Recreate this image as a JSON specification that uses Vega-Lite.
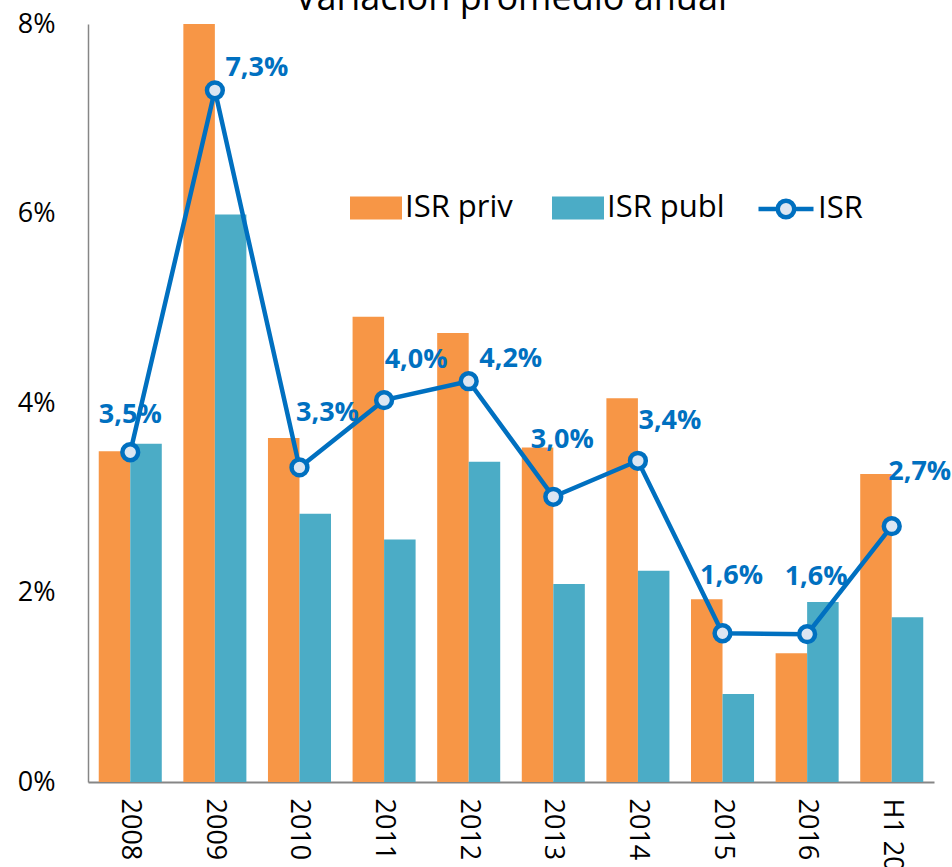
{
  "$schema": "https://vega.github.io/schema/vega-lite/v6.json",
  "width": 846,
  "height": 758,
  "autosize": {"type": "none"},
  "padding": {"left": 88, "top": 24, "right": 18, "bottom": 85},
  "title": {"text": "Variación promedio anual", "fontSize": 36, "fontWeight": "normal", "font": "Open Sans", "color": "#000000", "baseline": "alphabetic", "offset": 0, "dy": 36, "anchor": "middle", "frame": "group"},
  "config": {
    "view": {"stroke": null},
    "font": "Open Sans",
    "locale": {"number": {"decimal": ",", "thousands": ".", "grouping": [3], "currency": ["", " €"]}}
  },
  "data": {"values": [
    {"year": "2008", "serie": "ISR priv", "value": 0.0349},
    {"year": "2009", "serie": "ISR priv", "value": 0.0800},
    {"year": "2010", "serie": "ISR priv", "value": 0.0363},
    {"year": "2011", "serie": "ISR priv", "value": 0.0491},
    {"year": "2012", "serie": "ISR priv", "value": 0.0474},
    {"year": "2013", "serie": "ISR priv", "value": 0.0353},
    {"year": "2014", "serie": "ISR priv", "value": 0.0405},
    {"year": "2015", "serie": "ISR priv", "value": 0.0193},
    {"year": "2016", "serie": "ISR priv", "value": 0.0136},
    {"year": "H1 2017", "serie": "ISR priv", "value": 0.0325},
    {"year": "2008", "serie": "ISR publ", "value": 0.0357},
    {"year": "2009", "serie": "ISR publ", "value": 0.0599},
    {"year": "2010", "serie": "ISR publ", "value": 0.0283},
    {"year": "2011", "serie": "ISR publ", "value": 0.0256},
    {"year": "2012", "serie": "ISR publ", "value": 0.0338},
    {"year": "2013", "serie": "ISR publ", "value": 0.0209},
    {"year": "2014", "serie": "ISR publ", "value": 0.0223},
    {"year": "2015", "serie": "ISR publ", "value": 0.0093},
    {"year": "2016", "serie": "ISR publ", "value": 0.0190},
    {"year": "H1 2017", "serie": "ISR publ", "value": 0.0174},
    {"year": "2008", "serie": "ISR", "value": 0.0348},
    {"year": "2009", "serie": "ISR", "value": 0.0730},
    {"year": "2010", "serie": "ISR", "value": 0.0332},
    {"year": "2011", "serie": "ISR", "value": 0.0403},
    {"year": "2012", "serie": "ISR", "value": 0.0423},
    {"year": "2013", "serie": "ISR", "value": 0.0301},
    {"year": "2014", "serie": "ISR", "value": 0.0339},
    {"year": "2015", "serie": "ISR", "value": 0.0157},
    {"year": "2016", "serie": "ISR", "value": 0.0156},
    {"year": "H1 2017", "serie": "ISR", "value": 0.0270}
  ]},
  "encoding": {
    "x": {"field": "year", "type": "nominal", "sort": null,
      "scale": {"paddingInner": 0.255, "paddingOuter": 0.127},
      "axis": {"title": null, "labelAngle": 90, "labelAlign": "left", "labelBaseline": "middle", "ticks": false, "labelPadding": 16, "labelFontSize": 27, "labelColor": "#000000", "domainColor": "#868686", "domainWidth": 2, "labelFont": "Open Sans"}},
    "y": {"field": "value", "type": "quantitative",
      "scale": {"domain": [0, 0.08], "nice": false, "zero": true},
      "axis": {"title": null, "format": ".0%", "values": [0, 0.02, 0.04, 0.06, 0.08], "grid": false, "ticks": false, "domainColor": "#868686", "domainWidth": 1.5, "labelFontSize": 27, "labelPadding": 33, "labelColor": "#000000", "labelFont": "Open Sans"}}
  },
  "layer": [
    {
      "transform": [{"filter": "datum.serie !== 'ISR'"}],
      "mark": {"type": "bar", "clip": true},
      "encoding": {
        "xOffset": {"field": "serie", "type": "nominal", "sort": ["ISR priv", "ISR publ"], "scale": {"paddingInner": 0, "paddingOuter": 0}},
        "fill": {"field": "serie", "type": "nominal",
          "scale": {"domain": ["ISR priv", "ISR publ"], "range": ["#F79646", "#4BACC6"]},
          "legend": {"title": null, "orient": "none", "legendX": 262, "legendY": 158, "direction": "horizontal", "symbolType": "M-1,-0.44H1V0.44H-1Z", "symbolSize": 2704, "symbolStrokeWidth": 0, "labelFontSize": 31, "labelFont": "Open Sans", "labelColor": "#000000", "labelOffset": 3, "columnPadding": 39}}
      }
    },
    {
      "transform": [{"filter": "datum.serie === 'ISR'"}],
      "mark": {"type": "line", "strokeWidth": 4.5},
      "encoding": {
        "stroke": {"field": "serie", "type": "nominal",
          "scale": {"domain": ["ISR"], "range": ["#0070C0"]},
          "legend": {"title": null, "orient": "none", "legendX": 668, "legendY": 155, "direction": "horizontal", "symbolType": "M-1,0H-0.3M0.3,0H1M-0.3,0A0.3,0.3 0 1,1 0.3,0A0.3,0.3 0 1,1 -0.3,0Z", "symbolSize": 3025, "symbolStrokeWidth": 4.5, "symbolFillColor": "#DCE6F2", "labelFontSize": 31, "labelFont": "Open Sans", "labelColor": "#000000", "labelOffset": 2}}
      }
    },
    {
      "transform": [{"filter": "datum.serie === 'ISR'"}],
      "mark": {"type": "point", "shape": "circle", "filled": false, "fill": "#DCE6F2", "fillOpacity": 1, "stroke": "#0070C0", "strokeWidth": 4.5, "size": 250, "opacity": 1},
      "encoding": {}
    },
    {
      "transform": [{"filter": "datum.serie === 'ISR' && datum.year === '2008'"}],
      "mark": {"type": "text", "font": "Open Sans", "fontWeight": "bold", "fontSize": 27, "color": "#0070C0", "align": "center", "baseline": "alphabetic", "dx": 0, "dy": -29},
      "encoding": {"text": {"field": "value", "type": "quantitative", "format": ".1%"}}
    },
    {
      "transform": [{"filter": "datum.serie === 'ISR' && (datum.year === '2009' || datum.year === '2012')"}],
      "mark": {"type": "text", "font": "Open Sans", "fontWeight": "bold", "fontSize": 27, "color": "#0070C0", "align": "center", "baseline": "alphabetic", "dx": 42, "dy": -14},
      "encoding": {"text": {"field": "value", "type": "quantitative", "format": ".1%"}}
    },
    {
      "transform": [{"filter": "datum.serie === 'ISR' && (datum.year === '2010' || datum.year === 'H1 2017')"}],
      "mark": {"type": "text", "font": "Open Sans", "fontWeight": "bold", "fontSize": 27, "color": "#0070C0", "align": "center", "baseline": "alphabetic", "dx": 28, "dy": -46},
      "encoding": {"text": {"field": "value", "type": "quantitative", "format": ".1%"}}
    },
    {
      "transform": [{"filter": "datum.serie === 'ISR' && (datum.year === '2011' || datum.year === '2014')"}],
      "mark": {"type": "text", "font": "Open Sans", "fontWeight": "bold", "fontSize": 27, "color": "#0070C0", "align": "center", "baseline": "alphabetic", "dx": 32, "dy": -32},
      "encoding": {"text": {"field": "value", "type": "quantitative", "format": ".1%"}}
    },
    {
      "transform": [{"filter": "datum.serie === 'ISR' && (datum.year === '2013' || datum.year === '2015' || datum.year === '2016')"}],
      "mark": {"type": "text", "font": "Open Sans", "fontWeight": "bold", "fontSize": 27, "color": "#0070C0", "align": "center", "baseline": "alphabetic", "dx": 9, "dy": -49},
      "encoding": {"text": {"field": "value", "type": "quantitative", "format": ".1%"}}
    }
  ]
}
